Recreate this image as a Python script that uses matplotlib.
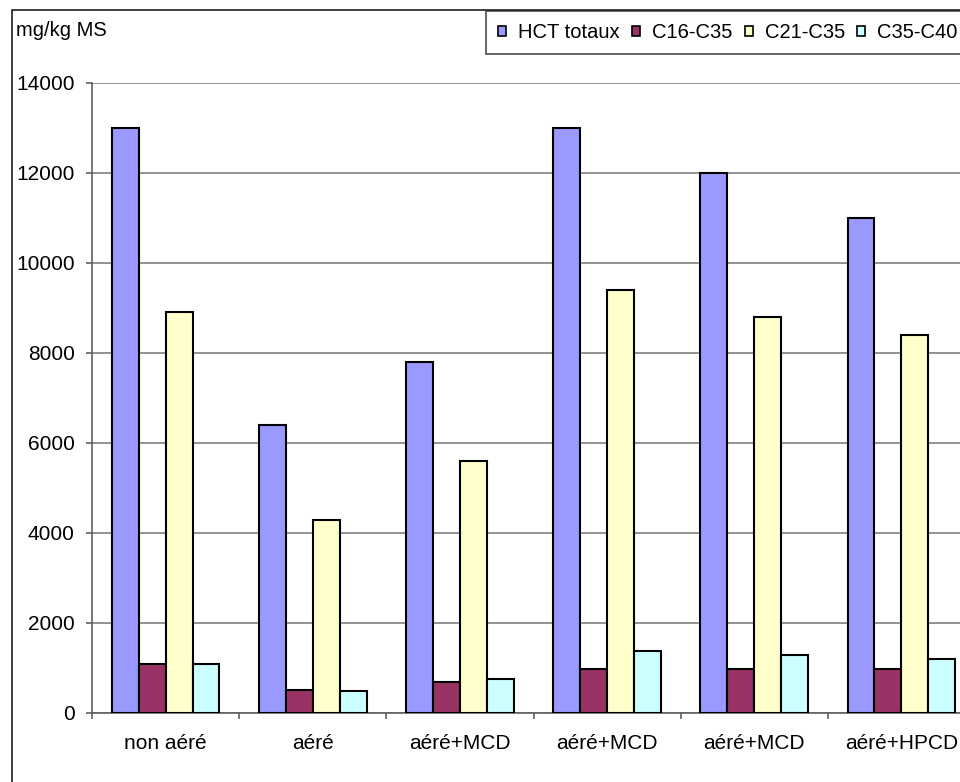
import numpy as np
import matplotlib
matplotlib.use("Agg")
import matplotlib.pyplot as plt
from matplotlib.patches import Patch, Rectangle

plt.rcParams['font.family'] = ['Liberation Sans', 'DejaVu Sans']

categories = ['non aéré', 'aéré', 'aéré+MCD', 'aéré+MCD', 'aéré+MCD', 'aéré+HPCD']
series = ['HCT totaux', 'C16-C35', 'C21-C35', 'C35-C40']
hct = [13000, 6400, 7800, 13000, 12000, 11000]
c16_c35 = [1100, 520, 680, 970, 970, 970]
c21_c35 = [8900, 4300, 5600, 9400, 8800, 8400]
c35_c40 = [1100, 480, 750, 1380, 1280, 1200]
colors = ['#9999FF', '#993366', '#FFFFCC', '#CCFFFF']
yticks = [0, 2000, 4000, 6000, 8000, 10000, 12000, 14000]

W, H = 960, 782
fig = plt.figure(figsize=(W / 100, H / 100), dpi=100)
ax = fig.add_axes([92 / W, 69 / H, 883 / W, 630 / H])

x = np.arange(len(categories))
w = 0.183
for k, vals in enumerate([hct, c16_c35, c21_c35, c35_c40]):
    ax.bar(x + (k - 1.5) * w, vals, width=w, color=colors[k],
           edgecolor='black', linewidth=1.5, zorder=3)

ax.set_xlim(-0.5, len(categories) - 0.5)
ax.set_ylim(0, 14000)
ax.set_yticks(yticks)
ax.set_yticklabels([str(v) for v in yticks], fontsize=15)
ax.yaxis.grid(True, color='#808080', linewidth=1.2, zorder=0)

# category labels centered, tick marks between groups
ax.set_xticks(x)
ax.set_xticklabels(categories, fontsize=15)
ax.tick_params(axis='x', length=0, pad=15)
ax.set_xticks(np.arange(-0.5, len(categories), 1.0), minor=True)
ax.tick_params(axis='x', which='minor', length=4.5, color='#606060', width=1.2)
ax.tick_params(axis='y', length=4.5, color='#606060', width=1.2, pad=8)

for s in ['top', 'right']:
    ax.spines[s].set_visible(False)
for s in ['left', 'bottom']:
    ax.spines[s].set_color('#606060')
    ax.spines[s].set_linewidth(1.2)

fig.text(16 / W, 1 - 31 / H, 'mg/kg MS', fontsize=14.5, va='center', ha='left')

# outer chart frame
fig.patches.append(Rectangle((12 / W, -0.1), 1.2, 1 - 10 / H + 0.1,
                             transform=fig.transFigure, fill=False,
                             edgecolor='#202020', linewidth=1.2))

handles = [Patch(facecolor=c, edgecolor='black', linewidth=1.2) for c in colors]
leg = fig.legend(handles, series, loc='upper left', bbox_to_anchor=(486 / W, 1 - 11 / H),
                 ncol=4, fontsize=14.5, frameon=True, fancybox=False,
                 handlelength=0.4, handleheight=0.4, handletextpad=0.6,
                 columnspacing=0.6, borderpad=0.6, borderaxespad=0)
leg.get_frame().set_edgecolor('#202020')
leg.get_frame().set_linewidth(1.2)

fig.savefig('out.png', dpi=100)
